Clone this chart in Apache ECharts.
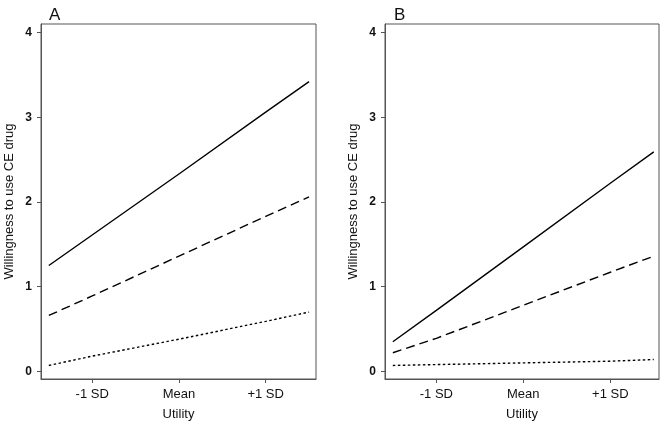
<!DOCTYPE html>
<html>
<head>
<meta charset="utf-8">
<script src="https://cdn.jsdelivr.net/npm/echarts@6/dist/echarts.min.js"></script>
<style>
html,body{margin:0;padding:0;background:#fff;}
#chart{width:664px;height:422px;}
</style>
</head>
<body>
<div id="chart"></div>
<script>
// Utility positions (in SD units)
var utilityX = [-1.5, -1, 0, 1, 1.5];
var xTickValues = [-1, 0, 1];
var xTickLabels = ['-1 SD', 'Mean', '+1 SD'];
var yTickValues = [0, 1, 2, 3, 4];

// Panel A
var aSolid  = [1.25, 1.61, 2.33, 3.06, 3.42];
var aDashed = [0.66, 0.89, 1.36, 1.83, 2.06];
var aDotted = [0.07, 0.18, 0.38, 0.59, 0.70];
// Panel B
var bSolid  = [0.35, 0.72, 1.47, 2.22, 2.59];
var bDashed = [0.22, 0.39, 0.78, 1.17, 1.36];
var bDotted = [0.07, 0.08, 0.10, 0.12, 0.14];

var panelTitles = ['A', 'B'];
var yTitle = 'Willingness to use CE drug';
var xTitle = 'Utility';

function pairs(ys){ return utilityX.map(function(x,i){ return [x, ys[i]]; }); }

var font = 'Liberation Sans, Arial, sans-serif';
var grids = [
  {left:41, top:24, width:275, height:355, show:true, borderColor:'#555', borderWidth:1, containLabel:false, outerBoundsMode:'none'},
  {left:385, top:24, width:274, height:355, show:true, borderColor:'#555', borderWidth:1, containLabel:false, outerBoundsMode:'none'}
];
var xMin = [-1.59, -1.59], xMax = [1.58, 1.56];

function xAxis(i){
  return {
    type:'value', gridIndex:i, min:xMin[i], max:xMax[i],
    name:xTitle, nameLocation:'middle', nameGap:29,
    nameTextStyle:{fontFamily:font, fontSize:13, color:'#111'},
    axisLine:{show:true, onZero:false, lineStyle:{color:'#555', width:1}},
    axisTick:{show:true, length:4, customValues:xTickValues, lineStyle:{color:'#555'}},
    axisLabel:{customValues:xTickValues, margin:9, fontFamily:font, fontSize:13, color:'#111',
      formatter:function(v){ var k = xTickValues.indexOf(Math.round(v)); return k>=0 ? xTickLabels[k] : ''; }},
    splitLine:{show:false}
  };
}
function yAxis(i){
  return {
    type:'value', gridIndex:i, min:-0.09, max:4.1,
    name:yTitle, nameLocation:'middle', nameGap:25, nameRotate:90,
    nameTextStyle:{fontFamily:font, fontSize:13, color:'#111'},
    axisLine:{show:true, onZero:false, lineStyle:{color:'#555', width:1}},
    axisTick:{show:true, length:4, customValues:yTickValues, lineStyle:{color:'#555'}},
    axisLabel:{customValues:yTickValues, margin:9, fontFamily:font, fontSize:12, color:'#111', fontWeight:'bold'},
    splitLine:{show:false}
  };
}
function line(i, ys, type){
  return {
    type:'line', xAxisIndex:i, yAxisIndex:i, data:pairs(ys), symbol:'none', silent:true,
    lineStyle:{color:'#000', width:1.4, type:type}
  };
}

var option = {
  animation:false,
  backgroundColor:'#fff',
  title:[
    {text:panelTitles[0], left:44, top:2, textStyle:{fontFamily:font, fontSize:17, fontWeight:'normal', color:'#111'}},
    {text:panelTitles[1], left:389, top:2, textStyle:{fontFamily:font, fontSize:17, fontWeight:'normal', color:'#111'}}
  ],
  grid:grids,
  xAxis:[xAxis(0), xAxis(1)],
  yAxis:[yAxis(0), yAxis(1)],
  series:[
    line(0, aSolid, 'solid'), line(0, aDashed, [9,5]), line(0, aDotted, [2.5,2.5]),
    line(1, bSolid, 'solid'), line(1, bDashed, [9,5]), line(1, bDotted, [2.5,2.5])
  ]
};
echarts.init(document.getElementById('chart')).setOption(option);
</script>
</body>
</html>
